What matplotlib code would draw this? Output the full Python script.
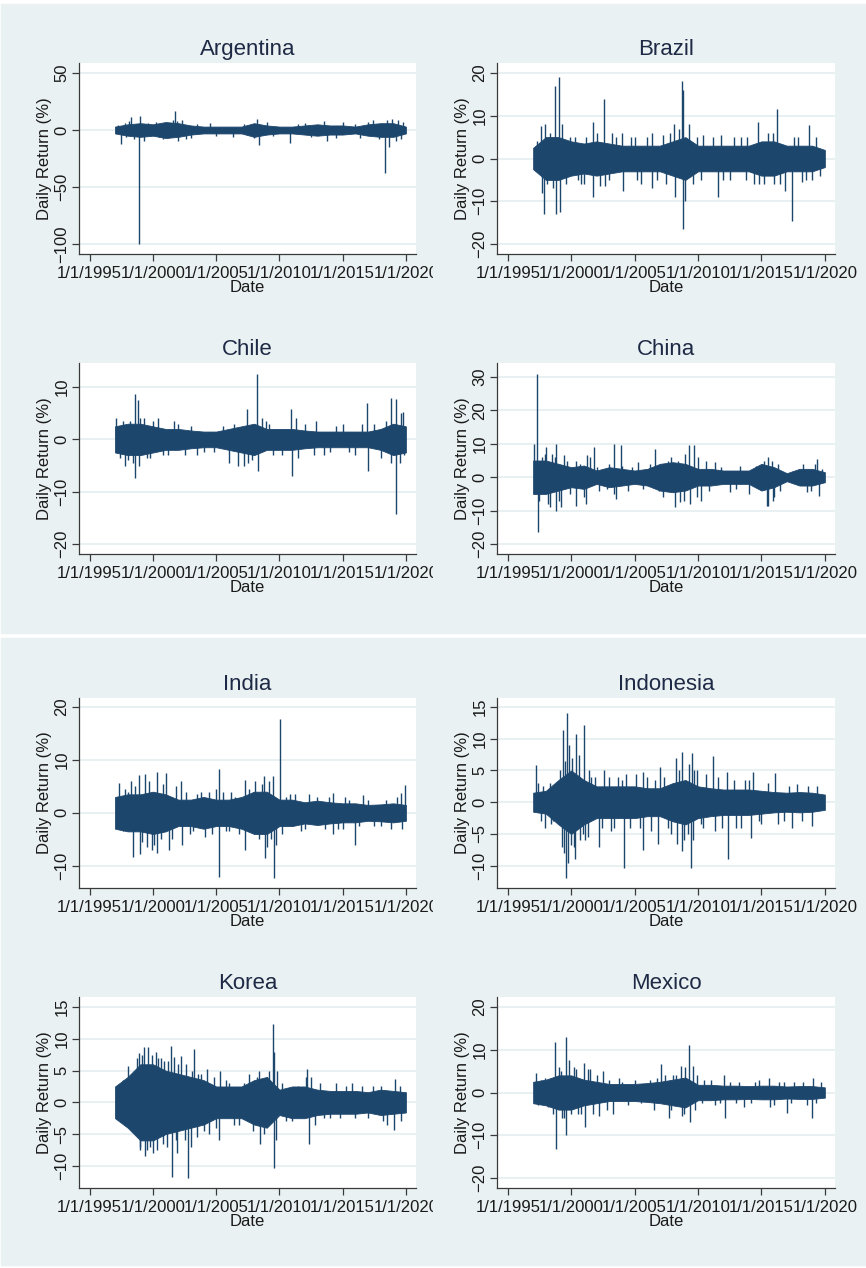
import matplotlib
matplotlib.use('Agg')
import matplotlib.pyplot as plt
import numpy as np
from matplotlib.patches import Rectangle
from matplotlib.transforms import Bbox, TransformedBbox

plt.rcParams['font.family'] = ['Liberation Sans', 'DejaVu Sans']

# half-width of the dense daily-return band, one value per year 1997..2020
band_years = list(range(1997, 2021))
band_arg = [3, 5, 6, 5, 7, 6, 4, 3, 3, 3, 3, 6, 4, 3, 3, 4, 5, 4, 4, 3, 5, 6, 6, 3]
band_bra = [2.5, 5, 5, 4, 3.5, 4, 3.5, 3, 3, 3, 3, 4, 5, 3, 3, 3, 3, 3, 4, 4, 3, 3, 3, 2]
band_chl = [2.5, 3, 3, 2.5, 2, 2, 1.7, 1.5, 1.5, 2, 2.5, 3, 2, 2, 2, 1.7, 1.5, 1.5, 1.5, 1.5, 1.5, 2, 3, 2.5]
band_chn = [5, 5, 4, 3, 3.5, 2, 3, 2.5, 2, 2.5, 4, 4.5, 4, 2.5, 2.5, 2, 2, 2, 4, 3, 1.2, 2.5, 2.5, 1.5]
band_ind = [3, 3.5, 3.5, 4, 3.5, 2.5, 2.5, 3, 2.5, 2.5, 3, 4, 4, 2.5, 2.5, 2, 2.3, 2, 1.8, 1.8, 1.5, 1.6, 1.8, 1.5]
band_idn = [1.5, 1.8, 3.5, 5, 3.5, 2.5, 2.5, 2.5, 2.5, 2.2, 2.2, 3, 3.5, 2.5, 2.2, 2, 2, 2, 1.8, 1.6, 1.5, 1.6, 1.5, 1.2]
band_kor = [2.5, 4, 6, 6, 5, 4.5, 4, 3.5, 2.5, 2.5, 2.5, 3.5, 4, 2, 2.5, 2.5, 2, 1.8, 1.8, 1.8, 1.6, 2, 1.8, 1.6]
band_mex = [2.5, 3, 4, 4, 3, 2.5, 2, 2, 2, 2.2, 2.5, 3, 3.5, 1.8, 1.8, 1.6, 1.6, 1.5, 1.6, 1.6, 1.4, 1.5, 1.5, 1.2]

# extreme and notable daily returns (year, %)
spikes_arg = [(1997.5, -12), (1997.8, 6), (1998.3, 11), (1998.5, -8), (1998.9, -100), (1999.0, 12),
              (1999.3, -10), (2000.2, 7), (2000.8, -8), (2001.6, 9), (2001.75, 17), (2002.0, -10),
              (2002.3, 9), (2003.0, -7), (2004.5, 6), (2006.3, -6), (2008.2, 10), (2008.35, -13),
              (2009.0, 7), (2010.8, -11), (2012.0, 6), (2013.5, 8), (2013.8, -10), (2015.0, 7),
              (2016.4, -7), (2017.4, 9), (2017.9, -8), (2018.35, -38), (2018.7, -15), (2018.9, 10),
              (2019.4, 9), (2019.6, -8),
              (1997.2, 4), (1997.9, -6), (1998.1, 8), (1999.6, 6), (2000.5, -6), (2001.2, -7),
              (2001.9, 8), (2002.6, -8), (2003.5, 5), (2005.0, -5), (2007.2, 5), (2008.0, -7),
              (2009.5, -5), (2011.5, 5), (2012.5, -6), (2014.5, -7), (2016.0, 5), (2017.0, 7),
              (2018.5, 9), (2019.2, -10), (2019.8, 7)]
spikes_bra = [(1997.6, 7.5), (1997.7, -8), (1997.86, -13), (1997.9, 8), (1998.6, -7), (1998.75, 17),
              (1998.78, -13), (1999.05, 19), (1999.08, -12.5), (1999.3, 8), (1999.6, -6), (2000.3, 5),
              (2000.8, -6), (2001.2, 5), (2001.7, 8.5), (2001.75, -9), (2002.3, -6.5), (2002.6, 14),
              (2002.7, -6.5), (2003.5, 5), (2004.0, 6), (2004.1, -7.5), (2005.0, 5), (2005.5, -6),
              (2006.4, 6), (2006.35, -7), (2007.2, 5.5), (2007.5, -6), (2008.1, 8), (2008.15, -9),
              (2008.5, 7), (2008.75, 18), (2008.78, -16.5), (2008.85, 16), (2008.95, -10), (2009.3, 8),
              (2009.6, -6), (2010.4, 5.5), (2011.6, -9), (2011.8, 5.5), (2012.5, -5), (2013.4, 5),
              (2013.8, -5), (2014.75, 8.5), (2014.8, -6), (2015.5, 6), (2016.2, 11.5), (2016.5, -6),
              (2016.85, -7.5), (2017.38, -14.5), (2017.6, 5), (2018.2, -5.5), (2018.77, 7.8), (2019.0, -5),
              (1997.3, 4), (1998.1, -6), (1998.3, 6), (1999.9, 5), (2000.5, -5), (2001.0, -6),
              (2002.0, 6), (2003.0, -5), (2003.2, 6), (2004.7, 5), (2005.2, -5), (2006.0, 5),
              (2006.8, -5), (2007.8, 6), (2009.9, 5), (2010.2, -5), (2011.2, 5), (2012.0, -5),
              (2012.8, 5), (2013.9, 5), (2014.4, -6), (2015.2, -6), (2015.9, 6), (2016.0, -6),
              (2017.9, 5), (2018.5, -5), (2019.3, 5), (2019.6, -4)]
spikes_chl = [(1997.05, 4), (1997.4, -3.5), (1997.8, -5), (1998.2, 3.5), (1998.55, 8.7), (1998.6, -7.3),
              (1998.85, 7.5), (1998.9, -5), (1999.3, 4), (1999.8, -3.5), (2000.4, 4), (2001.2, -3),
              (2001.7, 3.5), (2002.5, -3), (2004.0, -2.5), (2005.5, 2.5), (2006.0, -4.5), (2006.7, -5),
              (2007.2, -5), (2007.45, 5.8), (2007.5, -4.5), (2008.25, 12.5), (2008.3, -6), (2008.9, 3.5),
              (2009.5, -3), (2010.9, 5.8), (2011.0, -7), (2011.3, 4), (2012.9, 3.5), (2012.7, -3),
              (2014.0, -2.5), (2015.0, 3), (2016.0, -3), (2016.95, 7), (2017.0, -6), (2018.4, 3.5),
              (2018.85, 8), (2018.8, -4.5), (2019.2, -14.2), (2019.25, 7.8), (2019.8, 5.3), (2019.85, -3),
              (1997.6, 3.5), (1998.0, -4), (1998.4, -4.5), (1999.0, 4), (1999.5, -3.5), (2000.0, 3.5),
              (2000.8, -3), (2002.0, 3), (2003.0, 2.5), (2003.5, -3), (2004.8, -2.5), (2006.4, 3),
              (2007.8, -4), (2008.6, 4), (2009.2, 3), (2010.2, -3), (2011.5, -3.5), (2012.0, 3),
              (2013.5, -3), (2014.5, 2.5), (2015.5, -2.5), (2016.5, 3), (2017.5, 3), (2018.0, -3.5),
              (2019.5, -4.5), (2019.6, 5)]
spikes_chn = [(1997.05, 10), (1997.1, -5), (1997.33, 31), (1997.36, -16.5), (1997.7, 6), (1998.05, 9),
              (1998.2, -8), (1998.5, 7), (1998.8, 10), (1998.82, -10), (1999.2, -9), (1999.4, 6.5),
              (2000.4, -8.5), (2000.35, 5), (2001.25, 6.5), (2001.2, -8), (2001.8, 9), (2002.2, -4),
              (2003.35, 10), (2003.4, -5), (2003.55, -6.5), (2003.9, 9.5), (2004.5, -4), (2005.3, 4.5),
              (2006.6, 8.5), (2006.9, -4), (2007.6, 5), (2008.2, -9), (2008.6, -7.5), (2009.25, 9.5),
              (2009.4, -8), (2009.65, 9.5), (2010.2, -7), (2010.6, 5), (2011.3, 4.5), (2012.5, -4.5),
              (2013.3, 3.5), (2014.0, -5), (2015.4, -8.7), (2015.5, 6), (2015.55, -8.5), (2016.0, -6),
              (2016.3, 4), (2017.5, 2), (2018.6, -4.5), (2019.4, 5.5), (2019.55, -5.5), (2019.8, 2.5),
              (1997.5, -7), (1997.9, 7), (1998.35, -9), (1998.7, 6), (1999.0, -7), (1999.7, 5),
              (1999.9, -5), (2000.7, 4), (2001.0, -6), (2001.5, 6), (2002.0, 3), (2002.8, -3.5),
              (2003.0, 4), (2004.0, 3.5), (2004.8, 3), (2005.7, -3.5), (2006.2, 4), (2007.2, -6),
              (2007.9, 6), (2008.4, 5), (2008.9, -7), (2009.0, 7), (2009.9, -6), (2010.0, 6),
              (2010.9, -4), (2011.8, 3), (2013.0, -3.5), (2014.6, 3.5), (2015.2, 5), (2015.8, 5),
              (2015.9, -7), (2016.5, -4), (2018.3, 4), (2018.9, -4), (2019.2, 4)]
spikes_ind = [(1997.35, 5.6), (1997.6, -3.5), (1998.0, 4), (1998.3, 6), (1998.4, -8.3), (1998.9, 7.2),
              (1998.95, -7.8), (1999.4, 7.3), (1999.5, -6.5), (1999.9, -7), (2000.3, 7.8), (2000.35, -7.5),
              (2000.8, 5.5), (2001.0, 7.5), (2001.3, -7), (2001.5, -5), (2002.2, 6), (2002.3, -6),
              (2002.9, -4), (2003.5, 3.5), (2004.1, -4.5), (2005.0, 4.5), (2005.2, 8.3), (2005.22, -12.2),
              (2005.8, -3.5), (2006.5, 3), (2007.3, 6.3), (2007.25, -7), (2007.9, 4), (2008.4, -5),
              (2008.8, 7), (2008.85, -8.6), (2009.2, 6), (2009.5, 7), (2009.55, -12.3), (2009.7, -6),
              (2010.05, 17.8), (2010.2, -4), (2010.8, 3.5), (2011.7, -3.5), (2012.3, 3.5), (2013.6, -3),
              (2014.2, 3.8), (2014.25, -4), (2015.0, -3), (2015.5, 2.5), (2016.0, -6), (2016.6, 3.3),
              (2017.5, -2.5), (2018.4, 2.5), (2019.6, 3.7), (2019.7, -3), (2019.9, 5.3),
              (1997.8, 4.5), (1998.6, 5), (1999.1, -5.5), (1999.7, 6), (2000.1, -6), (2000.6, -5),
              (2001.8, 5), (2002.6, 4), (2003.2, -3.5), (2003.8, 4), (2004.4, 4), (2004.7, -4),
              (2005.5, 4), (2006.0, -3.5), (2006.2, 4), (2006.8, -4), (2007.6, 4.5), (2008.1, 6),
              (2008.6, 5.5), (2009.0, -6.5), (2009.3, -5), (2010.5, 3), (2011.2, 3.5), (2012.0, -3),
              (2013.0, 3), (2013.9, 3), (2014.6, -3), (2015.2, 3), (2016.3, -2.5), (2017.0, 2.5),
              (2018.0, -2.5), (2018.8, -3), (2019.3, 3)]
spikes_idn = [(1997.2, 5.8), (1997.6, -3), (1997.95, -4), (1998.3, 3), (1998.4, -3.5), (1998.9, 2.5),
              (1999.35, 11.3), (1999.3, -7), (1999.5, 6.5), (1999.7, 14), (1999.62, -12), (1999.75, -9.5),
              (1999.95, -6.7), (2000.3, -9), (2000.4, 10.8), (2000.6, 7.5), (2000.9, -5), (2001.0, 12.2),
              (2001.3, -5.5), (2001.6, 4), (2002.2, -7), (2002.6, 5), (2003.1, -4.5), (2003.7, 4),
              (2004.2, -10.4), (2004.3, 4.5), (2005.1, 4.5), (2005.65, -7.5), (2005.7, 4.7), (2006.3, -4.5),
              (2006.85, -6.5), (2007.0, 5.5), (2007.6, -4), (2008.3, 7), (2008.35, -6.5), (2008.7, 7.9),
              (2008.75, -7.6), (2009.2, -5), (2009.45, -10.4), (2009.5, 7.7), (2009.7, 5), (2010.2, -3.5),
              (2010.6, 4.5), (2011.2, 7.3), (2011.3, -4.5), (2012.3, 4.7), (2012.4, -9), (2013.0, -4),
              (2013.7, 3.5), (2014.3, 4.8), (2014.2, -5.7), (2015.0, -3.5), (2016.1, 4.6), (2016.3, -3.5),
              (2017.4, -4), (2017.8, 2.8), (2018.7, 2.5), (2019.0, -3.8),
              (1997.4, 3), (1997.8, 2.5), (1998.6, -3), (1999.1, 5), (1999.45, -8), (1999.85, 9),
              (2000.1, 7), (2000.2, -7), (2000.7, -6), (2001.1, -6), (2001.4, 5), (2001.9, 4),
              (2002.4, -4), (2003.0, 4), (2003.4, -4), (2004.0, 3.5), (2004.6, -4), (2005.4, -4),
              (2006.0, 4), (2006.6, 3.5), (2007.3, 4), (2007.9, -5), (2008.5, 5), (2008.9, -6),
              (2009.3, 6), (2009.6, -6), (2009.9, 5), (2010.4, -4), (2011.6, 4), (2011.9, -4),
              (2012.8, 3.5), (2013.4, -4), (2014.0, 3.5), (2014.8, -3), (2015.5, 3), (2016.8, -3),
              (2017.2, 2.5), (2018.2, -3), (2019.4, 2.5)]
spikes_kor = [(1997.3, 2.5), (1998.0, 5.8), (1998.1, -4), (1998.5, 3.5), (1998.9, 7.8), (1998.95, -7.5),
              (1999.3, 8.7), (1999.4, -8.5), (1999.6, 8.7), (1999.8, -7), (2000.2, 8), (2000.3, -7.5),
              (2000.6, 7), (2000.8, -6.5), (2001.4, 8.8), (2001.5, -11.7), (2001.7, 7.2), (2001.9, -8),
              (2002.2, 7.3), (2002.8, -12), (2003.0, -7), (2003.25, 8.4), (2003.5, -5.5), (2003.8, 4.5),
              (2004.3, 5.2), (2004.4, -5), (2005.2, -6), (2005.3, 5), (2005.8, 3.5), (2006.4, -3.5),
              (2007.2, 3), (2007.6, 4.5), (2008.5, -6.5), (2008.4, 5), (2009.0, 4), (2009.5, 12.3),
              (2009.55, -10.3), (2009.6, 8), (2009.7, -6), (2010.2, 3), (2011.0, -3), (2012.2, 5.2),
              (2012.3, -6.5), (2012.5, 4), (2012.8, -3.5), (2013.2, 3), (2014.0, -2.5), (2014.5, 3),
              (2015.7, 3), (2016.0, -2.5), (2017.4, 2.5), (2018.5, -3.5), (2019.05, -4.3), (2019.1, 3.7),
              (2019.6, -3),
              (1997.6, 3.5), (1997.8, -3.5), (1998.3, -3), (1998.7, 7), (1999.0, -7), (1999.1, 7.5),
              (1999.5, -7.5), (1999.9, 7.5), (2000.0, -8), (2000.4, 7), (2000.9, 6.5), (2001.1, -7),
              (2001.2, 6.5), (2001.8, -6), (2002.0, 6), (2002.5, -6), (2002.6, 6), (2003.1, 5),
              (2003.6, 4.5), (2004.0, -4.5), (2004.8, 4), (2005.0, -4), (2006.0, 3), (2006.8, -3.5),
              (2007.9, -4.5), (2008.2, 4), (2008.8, -5), (2009.2, 5), (2009.8, 5), (2010.5, -3),
              (2011.5, 2.5), (2012.1, 4), (2013.5, -2.5), (2014.8, -2.5), (2015.3, 2.5), (2016.5, 2.5),
              (2017.0, -2.5), (2018.0, 2.5), (2018.2, -3), (2019.5, 2.5)]
spikes_mex = [(1997.2, 4.5), (1997.4, -3), (1997.9, 3.5), (1998.6, -5), (1998.75, 11.7), (1998.78, -13.3),
              (1999.0, 6), (1999.3, -6), (1999.6, 13), (1999.62, -10), (1999.8, 7.5), (2000.2, 6),
              (2000.5, -5), (2001.0, 7), (2001.1, -8), (2001.5, 5.5), (2002.2, -5.5), (2002.5, 5),
              (2003.3, -5), (2003.8, 3.5), (2004.5, -3), (2005.0, 3), (2006.5, -4), (2006.8, 3.5),
              (2007.1, 6.7), (2007.75, -6), (2008.0, 4), (2008.65, 6.3), (2008.7, -5.5), (2009.3, 11),
              (2009.35, -7), (2009.6, 6.3), (2009.8, -4), (2010.5, 3), (2011.3, -3), (2012.05, 4.2),
              (2012.1, -6), (2013.2, 2.5), (2013.6, -3.5), (2014.5, 2.5), (2015.6, 3.5), (2015.7, -3.5),
              (2016.4, 2.5), (2017.05, -4.8), (2017.6, 2.5), (2018.6, -3), (2019.0, -6), (2019.05, 3.3),
              (2019.7, 2.5),
              (1997.6, 3), (1998.2, -3.5), (1998.4, 3.5), (1999.2, 5), (1999.4, -6), (2000.0, -5),
              (2000.4, 5.5), (2000.8, -5), (2001.3, 5.5), (2001.7, -5), (2002.0, 4), (2002.8, -4),
              (2003.0, 3), (2004.0, 2.5), (2005.5, -2.5), (2006.2, 3), (2007.4, 4), (2007.9, -4),
              (2008.3, 4), (2008.9, -5), (2009.0, 6), (2009.9, 4), (2010.3, -2.5), (2011.0, 3),
              (2011.7, -2.5), (2012.5, 2.5), (2013.0, -2.5), (2014.2, -2.5), (2014.8, 3), (2016.0, -3),
              (2016.8, 2.5), (2017.3, -2.5), (2018.3, 2.5), (2019.3, -2.5)]

countries = ['Argentina', 'Brazil', 'Chile', 'China', 'India', 'Indonesia', 'Korea', 'Mexico']
bands = [band_arg, band_bra, band_chl, band_chn, band_ind, band_idn, band_kor, band_mex]
spikes = [spikes_arg, spikes_bra, spikes_chl, spikes_chn, spikes_ind, spikes_idn, spikes_kor, spikes_mex]
yticks = [[-100, -50, 0, 50], [-20, -10, 0, 10, 20], [-20, -10, 0, 10], [-20, -10, 0, 10, 20, 30],
          [-10, 0, 10, 20], [-10, -5, 0, 5, 10, 15], [-10, -5, 0, 5, 10, 15], [-20, -10, 0, 10, 20]]
ylims = [(-108.8, 58.8), (-22.3, 22.3), (-21.9, 14.6), (-23.0, 34.2),
         (-14.2, 21.7), (-13.5, 16.4), (-13.5, 16.6), (-22.3, 22.3)]
xticks = [1995, 2000, 2005, 2010, 2015, 2020]

W, H = 866, 1268
navy = '#1d466d'
bg = '#eaf1f3'

fig = plt.figure(figsize=(W / 100, H / 100), dpi=100, facecolor='white')
# two graph regions, split by a thin white strip
for top, bot in [(4, 633), (638, 1265)]:
    fig.patches.append(Rectangle((1 / W, 1 - bot / H), 1, (bot - top) / H,
                                 transform=fig.transFigure, color=bg, zorder=-10))

cols = [(79, 416), (497, 835)]
rows = [(63, 254), (363, 554), (698, 888), (997, 1188)]
left_clip = TransformedBbox(Bbox.from_extents(0, 0, 433 / W, 1), fig.transFigure)

for i, name in enumerate(countries):
    x0, x1 = cols[i % 2]
    t, b = rows[i // 2]
    ax = fig.add_axes([x0 / W, 1 - b / H, (x1 - x0) / W, (b - t) / H])
    ax.set_facecolor('white')

    band = np.array(bands[i])
    ax.fill_between(band_years, -band, band, color=navy, lw=0.6, zorder=3)
    sx = [s[0] for s in spikes[i]]
    sv = [s[1] for s in spikes[i]]
    ax.vlines(sx, 0, sv, color=navy, lw=1.0, zorder=3)

    ax.set_xlim(1994.15, 2020.8)
    ax.set_ylim(*ylims[i])
    ax.set_xticks(xticks)
    ax.set_xticklabels(['1/1/%d' % y for y in xticks])
    ax.set_yticks(yticks[i])
    ax.grid(axis='y', color='#e4eef0', lw=1.2)
    ax.set_axisbelow(True)

    for s in ['top', 'right']:
        ax.spines[s].set_visible(False)
    for s in ['left', 'bottom']:
        ax.spines[s].set_color('#3a3a3a')
        ax.spines[s].set_linewidth(0.9)
    ax.tick_params(length=5, width=0.9, color='#3a3a3a', labelsize=12, labelcolor='#1a1a1a')
    ax.tick_params(axis='x', pad=4)
    ax.tick_params(axis='y', pad=2)
    plt.setp(ax.get_yticklabels(), rotation=90, va='center')

    ax.set_title(name, fontsize=16, color='#1e2a45', pad=6)
    ax.set_xlabel('Date', fontsize=12, labelpad=-1, color='#1a1a1a')
    ax.set_ylabel('Daily Return (%)', fontsize=12, color='#1a1a1a')
    ax.yaxis.set_label_coords(-27 / (x1 - x0), 0.5)

    if i % 2 == 0:
        for lbl in ax.get_xticklabels():
            lbl.set_clip_box(left_clip)
            lbl.set_clip_on(True)

fig.savefig('out.png', dpi=100, facecolor=fig.get_facecolor())
